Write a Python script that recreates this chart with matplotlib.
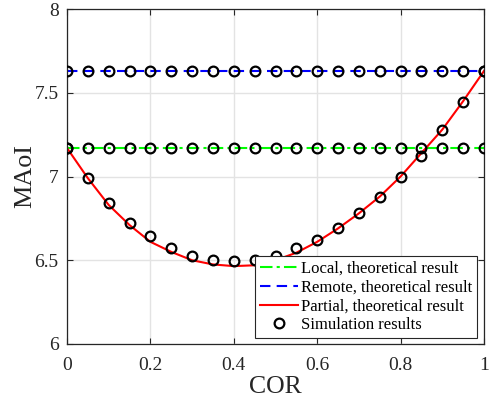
import matplotlib
matplotlib.use("Agg")
import matplotlib.pyplot as plt
import numpy as np

cor = [0.0, 0.05, 0.1, 0.15, 0.2, 0.25, 0.3, 0.35, 0.4, 0.45, 0.5,
       0.55, 0.6, 0.65, 0.7, 0.75, 0.8, 0.85, 0.9, 0.95, 1.0]
local_theory = [7.17] * 21
remote_theory = [7.63] * 21
partial_theory = [7.17, 6.99, 6.83, 6.71, 6.61, 6.55, 6.50, 6.475, 6.465, 6.47, 6.50,
                  6.545, 6.61, 6.69, 6.78, 6.88, 7.00, 7.14, 7.28, 7.45, 7.63]
local_sim = [7.17] * 21
remote_sim = [7.63] * 21
partial_sim = [7.17, 6.99, 6.844, 6.724, 6.645, 6.571, 6.527, 6.503, 6.496, 6.503, 6.527,
               6.571, 6.62, 6.694, 6.78, 6.879, 6.999, 7.124, 7.279, 7.447, 7.632]

plt.rcParams['font.family'] = ['Liberation Serif', 'DejaVu Serif']
plt.rcParams['mathtext.fontset'] = 'stix'

fig = plt.figure(figsize=(4.9, 4.01), dpi=100)
ax = fig.add_axes([67/490, 1-344/401, (484-67)/490, (344-9)/401])

l1, = ax.plot(cor, local_theory, color='#00ff00', linestyle='-.', lw=1.5, dashes=(6, 2, 1.5, 2),
              label='Local, theoretical result', zorder=2)
l2, = ax.plot(cor, remote_theory, color='#0000ff', linestyle='--', lw=1.5, dashes=(5, 3),
              label='Remote, theoretical result', zorder=2)
l3, = ax.plot(cor, partial_theory, color='#ff0000', linestyle='-', lw=1.5,
              label='Partial, theoretical result', zorder=2)
s, = ax.plot(cor, local_sim, 'o', mfc='none', mec='black', ms=7, mew=1.6,
             label='Simulation results', zorder=3)
ax.plot(cor, remote_sim, 'o', mfc='none', mec='black', ms=7, mew=1.6, zorder=3)
ax.plot(cor, partial_sim, 'o', mfc='none', mec='black', ms=7, mew=1.6, zorder=3)

ax.set_xlim(0, 1)
ax.set_ylim(6, 8)
ax.set_xticks([0, 0.2, 0.4, 0.6, 0.8, 1])
ax.set_xticklabels(['0', '0.2', '0.4', '0.6', '0.8', '1'])
ax.set_yticks([6, 6.5, 7, 7.5, 8])
ax.set_yticklabels(['6', '6.5', '7', '7.5', '8'])
ax.grid(True, color='#e3e3e3', lw=1.0)
ax.set_axisbelow(True)
ax.tick_params(direction='in', length=4, width=0.8, labelsize=14, colors='#262626',
               top=True, right=True)
ax.tick_params(axis='x', pad=9.5)
ax.tick_params(axis='y', pad=6)
for sp in ax.spines.values():
    sp.set_color('#262626')
    sp.set_linewidth(0.9)

ax.set_xlabel('COR', fontsize=18.5, color='#262626', labelpad=1)
ax.set_ylabel('MAoI', fontsize=18.8, color='#262626', labelpad=-1)

leg = ax.legend(handles=[l1, l2, l3, s], loc='lower right', fontsize=12,
                frameon=True, fancybox=False, edgecolor='#262626', framealpha=1,
                borderpad=0.3, labelspacing=0.16, handlelength=2.3, handletextpad=0.15,
                borderaxespad=0.0,
                bbox_to_anchor=((477-67)/417, (344-338)/335), bbox_transform=ax.transAxes)
leg.get_frame().set_linewidth(0.8)

fig.savefig('out.png', dpi=100)
